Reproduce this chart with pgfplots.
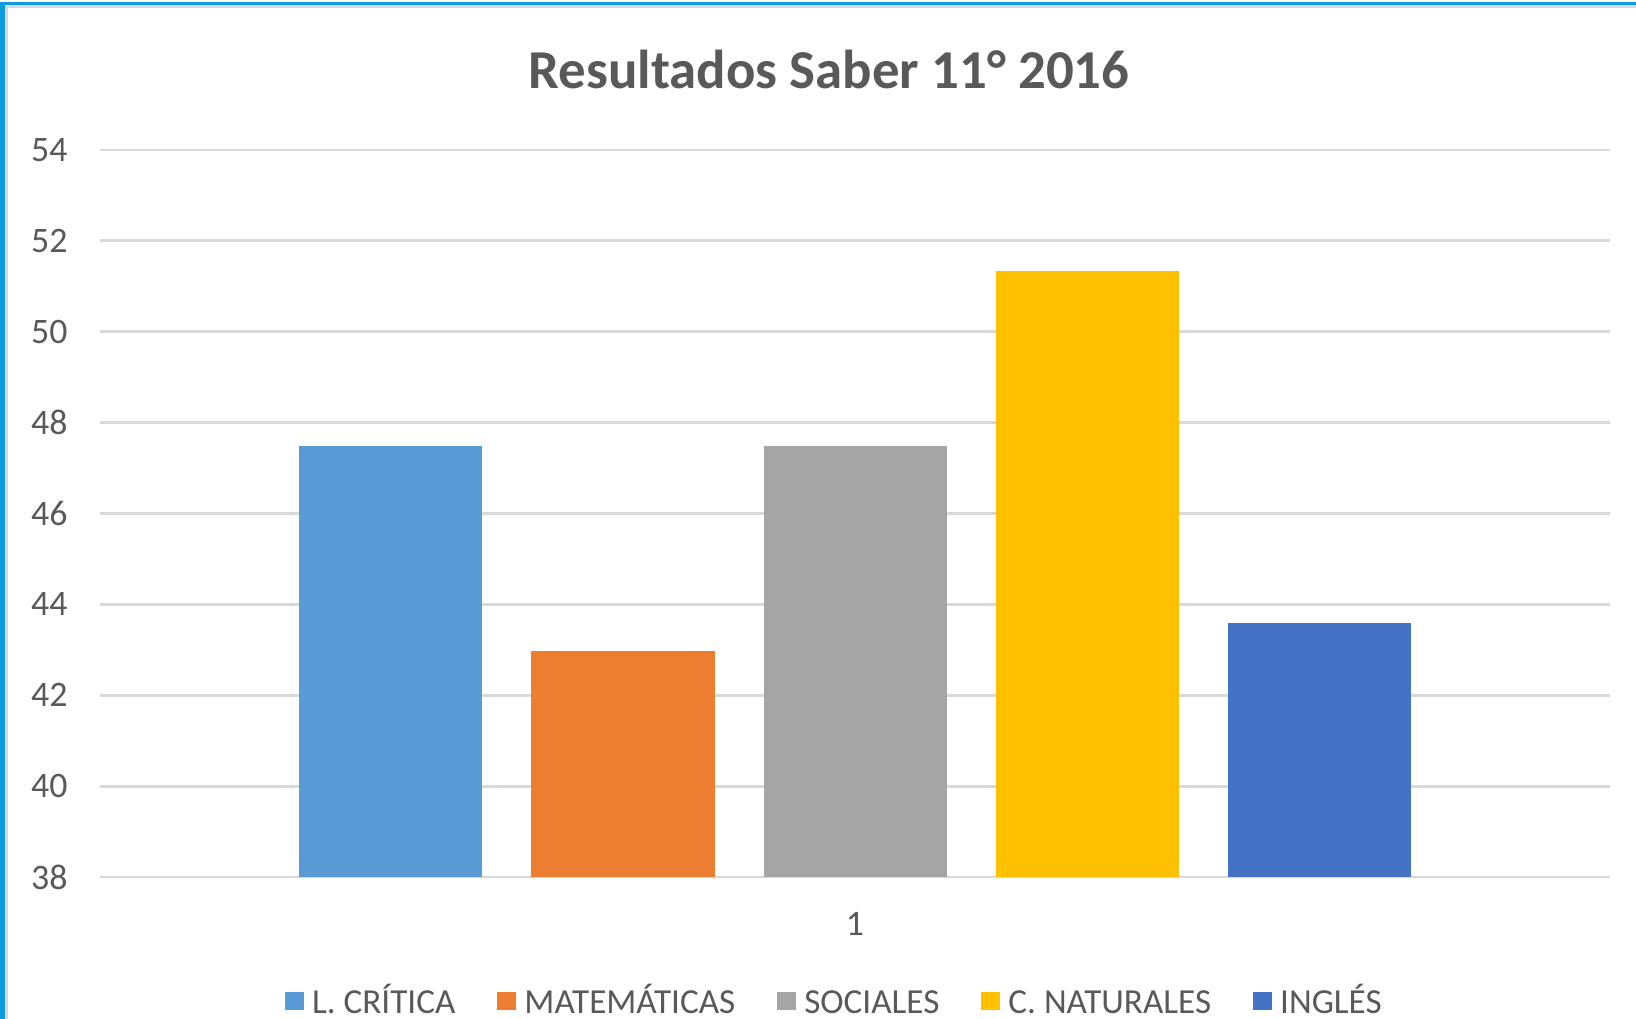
\documentclass[border=0pt]{standalone}
\usepackage{pgfplots}
\pgfplotsset{compat=1.18}
\usepackage{fontspec}
\setmainfont{Carlito}
\definecolor{cLC}{HTML}{5B9BD5}
\definecolor{cMA}{HTML}{ED7D31}
\definecolor{cSO}{HTML}{A5A5A5}
\definecolor{cNA}{HTML}{FFC000}
\definecolor{cIN}{HTML}{4472C4}
\definecolor{txt}{HTML}{595959}
\definecolor{gridc}{HTML}{D9D9D9}
\definecolor{framec}{RGB}{14,155,223}
\begin{document}
\begin{tikzpicture}
\useasboundingbox (0,0) rectangle (16.36,10.19);
\fill[white] (0,0) rectangle (16.36,10.19);
\fill[framec] (0,10.135) rectangle (16.36,10.17);
\fill[framec] (0,0) rectangle (0.05,10.17);
\fill[gridc] (0.05,10.105) rectangle (16.36,10.135);
\fill[gridc] (0.05,0) rectangle (0.08,10.135);
\node[text=txt, font=\fontsize{15.6}{19}\selectfont\bfseries] at (8.29,9.5) {Resultados Saber 11° 2016};
\begin{axis}[
  at={(1.0cm,1.42cm)}, anchor=south west,
  scale only axis, width=15.1cm, height=7.27cm,
  xmin=0, xmax=2, ymin=38, ymax=54,
  ytick={38,40,...,54},
  xtick={1}, xticklabels={1},
  ymajorgrids, xmajorgrids=false, grid style={draw=gridc, line width=0.28mm},
  axis line style={draw=none}, tick style={draw=none},
  ticklabel style={text=txt, font=\fontsize{10.2}{12}\selectfont},
  /pgf/number format/assume math mode=true,
  yticklabel style={xshift=-0.2cm},
  xticklabel style={yshift=-0.08cm},
  ybar=0.49cm, bar width=1.83cm,
  legend columns=5,
  legend style={at={(0.488,-0.1706)}, anchor=center, draw=none, fill=none,
    font=\fontsize{10}{12}\selectfont, text=txt,
    nodes={text height=1.7ex, text depth=0.25ex},
    /tikz/every odd column/.append style={column sep=0.015cm},
    /tikz/every even column/.append style={column sep=0.35cm}},
  legend image code/.code={\fill[#1] (0cm,-0.092cm) rectangle (0.185cm,0.092cm);},
]
\addplot[fill=cLC, draw=none] coordinates {(1,47.48)};
\addplot[fill=cMA, draw=none] coordinates {(1,42.97)};
\addplot[fill=cSO, draw=none] coordinates {(1,47.48)};
\addplot[fill=cNA, draw=none] coordinates {(1,51.33)};
\addplot[fill=cIN, draw=none] coordinates {(1,43.6)};
\legend{L. CRÍTICA, MATEMÁTICAS, SOCIALES, C. NATURALES, INGLÉS}
\end{axis}
\end{tikzpicture}
\end{document}
